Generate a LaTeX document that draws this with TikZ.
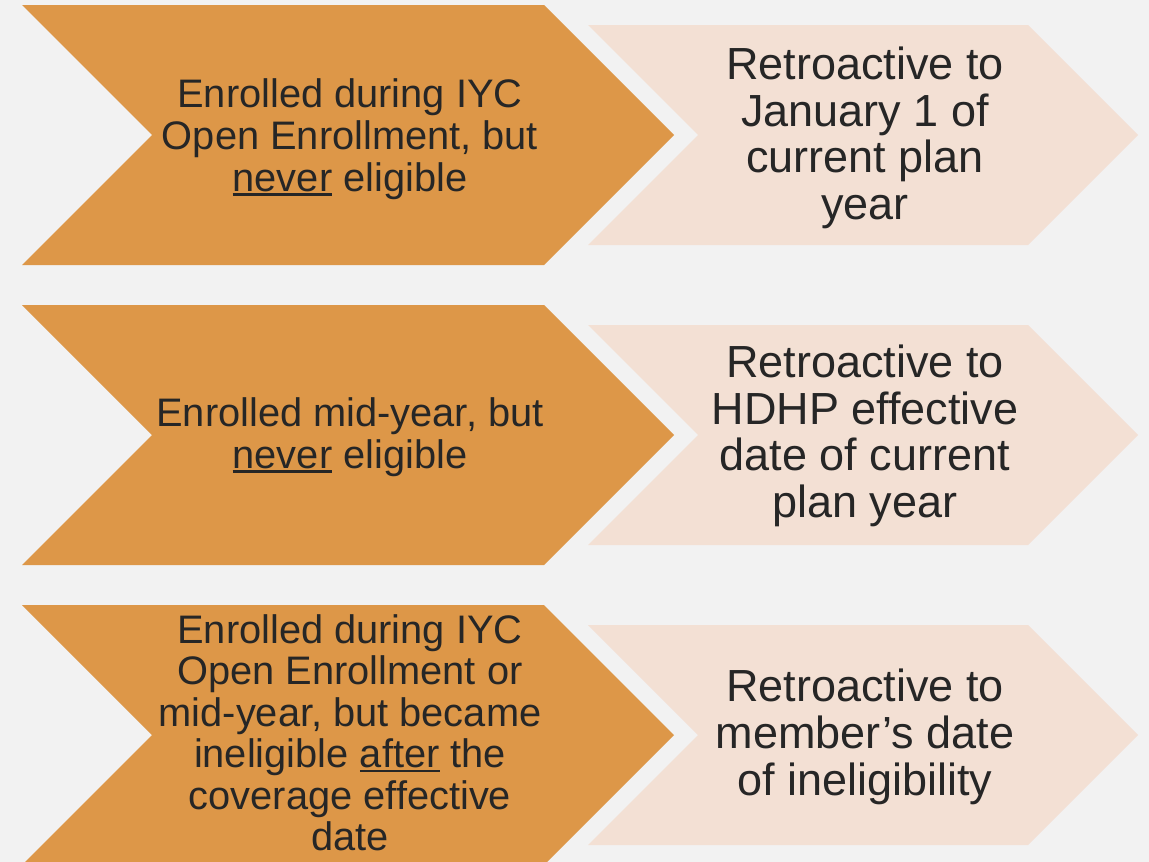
\documentclass[tikz,border=0pt]{standalone}
\usepackage{fontspec}
\setmainfont{Liberation Sans}
\definecolor{bg}{HTML}{F2F2F2}
\definecolor{orangec}{HTML}{DD9748}
\definecolor{lightc}{HTML}{F3E0D4}
\definecolor{txt}{HTML}{262626}
\tikzset{
  leftlabel/.style={text=txt, align=center, font=\fontsize{39.8}{42}\selectfont, inner sep=0pt},
  rightlabel/.style={text=txt, align=center, font=\fontsize{45}{46.7}\selectfont, inner sep=0pt},
}
\newcommand{\ulword}[1]{\mbox{\setbox0=\hbox{#1}\rlap{\rule[-4.5pt]{\wd0}{2.4pt}}\box0}}
\newcommand{\bigchev}[1]{\fill[orangec] (22,#1-130) -- (544,#1-130) -- (674,#1) -- (544,#1+130) -- (22,#1+130) -- (152,#1) -- cycle;}
\newcommand{\smallchev}[1]{\fill[lightc] (588,#1-110) -- (1028,#1-110) -- (1138,#1) -- (1028,#1+110) -- (588,#1+110) -- (698,#1) -- cycle;}
\begin{document}
\begin{tikzpicture}[x=1pt,y=-1pt]
\useasboundingbox (0,0) rectangle (1149,862);
\clip (0,0) rectangle (1149,862);
\fill[bg] (0,0) rectangle (1149,862);
\bigchev{135}
\bigchev{435}
\bigchev{735}
\smallchev{135}
\smallchev{435}
\smallchev{735}
\node[leftlabel] (l1) at (350,139) {Enrolled during IYC\\Open Enrollment, but\\\ulword{never} eligible};
\node[leftlabel] (l2) at (350,437) {Enrolled mid-year, but\\\ulword{never} eligible};
\node[leftlabel, font=\fontsize{39.8}{41.5}\selectfont] (l3) at (350,733) {Enrolled during IYC\\Open Enrollment or\\mid-year, but became\\ineligible \ulword{after} the\\coverage effective\\date};
\node[rightlabel] (r1) at (865,138) {Retroactive to\\January 1 of\\current plan\\year};
\node[rightlabel] (r2) at (865,436) {Retroactive to\\HDHP effective\\date of current\\plan year};
\node[rightlabel] (r3) at (865,737) {Retroactive to\\member’s date\\of ineligibility};
\end{tikzpicture}
\end{document}
